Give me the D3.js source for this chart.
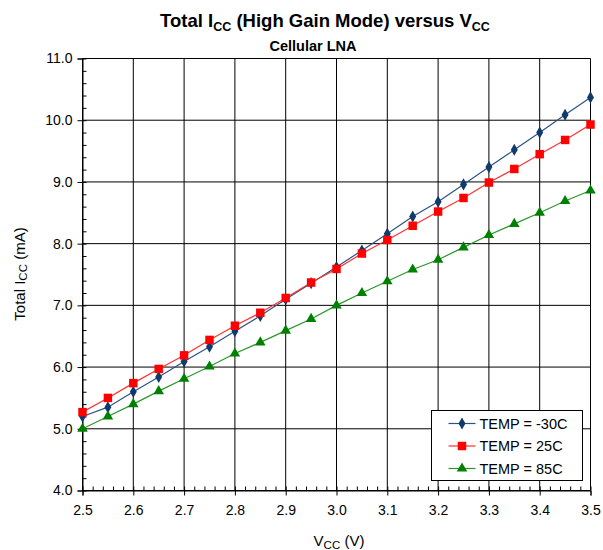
<!DOCTYPE html>
<html>
<head>
<meta charset="utf-8">
<script src="https://cdn.jsdelivr.net/npm/d3@7"></script>
<style>
	body { margin:0; background:#fff; }
	text { font-family: Arial, "Liberation Sans", sans-serif; fill:#000; }
</style>
</head>
<body>
<svg width="603" height="550"></svg>
<script>
var vcc = [2.5,2.55,2.6,2.65,2.7,2.75,2.8,2.85,2.9,2.95,3.0,3.05,3.1,3.15,3.2,3.25,3.3,3.35,3.4,3.45,3.5];
var tempM30 = [5.20,5.35,5.60,5.84,6.09,6.33,6.58,6.83,7.10,7.36,7.62,7.89,8.16,8.44,8.68,8.96,9.24,9.52,9.80,10.09,10.37];
var temp25 = [5.27,5.50,5.74,5.97,6.19,6.44,6.67,6.88,7.12,7.37,7.59,7.84,8.06,8.29,8.52,8.74,8.99,9.21,9.45,9.68,9.93];
var temp85 = [5.00,5.20,5.40,5.61,5.81,6.01,6.22,6.40,6.59,6.78,7.00,7.20,7.39,7.58,7.74,7.94,8.14,8.32,8.50,8.69,8.86];
var seriesNames = ["TEMP = -30C","TEMP = 25C","TEMP = 85C"];
var xTicks = [2.5,2.6,2.7,2.8,2.9,3.0,3.1,3.2,3.3,3.4,3.5];
var yTicks = [4,5,6,7,8,9,10,11];

window.iccChart = {
	load:function(){
		var svg = d3.select("svg");
		var x = d3.scaleLinear().domain([2.5,3.5]).range([82.5,590.5]);
		var y = d3.scaleLinear().domain([4,11]).range([490.5,58.5]);
		this.x = x; this.y = y;

		// grid
		svg.append("g").selectAll("line.v").data(xTicks).join("line")
			.attr("x1",d=>x(d)).attr("x2",d=>x(d))
			.attr("y1",y(4)).attr("y2",y(11))
			.attr("stroke","#000");
		svg.append("g").selectAll("line.h").data(yTicks).join("line")
			.attr("x1",x(2.5)).attr("x2",x(3.5))
			.attr("y1",d=>y(d)).attr("y2",d=>y(d))
			.attr("stroke","#000");

		// axes with minor ticks
		var xMinor = d3.range(2.5,3.5001,0.02);
		var yMinor = d3.range(4,11.001,0.2);
		svg.append("g").attr("transform","translate(0,"+y(4)+")")
			.call(d3.axisBottom(x).tickValues(xMinor).tickSize(-4).tickFormat(""))
			.call(g=>g.select(".domain").remove());
		svg.append("g").attr("transform","translate(0,"+y(4)+")")
			.call(d3.axisBottom(x).tickValues(xTicks).tickSize(5).tickPadding(10).tickFormat(d3.format(".1f")))
			.call(g=>g.selectAll("text").attr("font-size","14px").attr("font-family","Arial"));
		svg.append("g").attr("transform","translate("+x(2.5)+",0)")
			.call(d3.axisLeft(y).tickValues(yMinor).tickSize(-4).tickFormat(""))
			.call(g=>g.select(".domain").remove());
		svg.append("g").attr("transform","translate("+x(2.5)+",0)")
			.call(d3.axisLeft(y).tickValues(yTicks).tickSize(5).tickPadding(5).tickFormat(d3.format(".1f")))
			.call(g=>g.selectAll("text").attr("font-size","14px").attr("font-family","Arial"));
		svg.selectAll(".domain").attr("stroke","#000");

		this.drawSeries(svg, tempM30, "#0f3a6b", "#2b5482", d3.symbolDiamond, 42);
		this.drawSeries(svg, temp25, "#ff0000", "#ff3030", d3.symbolSquare, 72);
		this.drawSeries(svg, temp85, "#008000", "#2a962a", d3.symbolTriangle, 48);
		this.legend(svg);
		this.titles(svg);
	},
	drawSeries:function(svg, vals, fill, lineColor, sym, size){
		var x = this.x, y = this.y;
		var pts = vcc.map((v,i)=>[v, vals[i]]);
		svg.append("path").datum(pts)
			.attr("fill","none").attr("stroke",lineColor).attr("stroke-width",1.2)
			.attr("d", d3.line().x(d=>x(d[0])).y(d=>y(d[1])));
		svg.append("g").selectAll("path").data(pts).join("path")
			.attr("transform",d=>"translate("+x(d[0])+","+y(d[1])+")")
			.attr("d", d3.symbol().type(sym).size(size))
			.attr("fill",fill);
	},
	legend:function(svg){
		var g = svg.append("g").attr("transform","translate(431.5,410.5)");
		g.append("rect").attr("width",151).attr("height",70)
			.attr("fill","#fff").attr("stroke","#000");
		var styles = [
			{fill:"#0f3a6b", line:"#2b5482", sym:d3.symbolDiamond, size:42},
			{fill:"#ff0000", line:"#ff3030", sym:d3.symbolSquare, size:72},
			{fill:"#008000", line:"#2a962a", sym:d3.symbolTriangle, size:48}
		];
		seriesNames.forEach(function(name,i){
			var cy = 13 + i*22.5;
			g.append("line").attr("x1",17).attr("x2",44).attr("y1",cy).attr("y2",cy)
				.attr("stroke",styles[i].line).attr("stroke-width",1.2);
			g.append("path").attr("transform","translate(30.5,"+cy+")")
				.attr("d", d3.symbol().type(styles[i].sym).size(styles[i].size))
				.attr("fill",styles[i].fill);
			g.append("text").attr("x",48).attr("y",cy+5)
				.attr("font-size","14.5px").text(name);
		});
	},
	titles:function(svg){
		var t = svg.append("text").attr("x",325).attr("y",27)
			.attr("text-anchor","middle").attr("font-size","18.5px").attr("font-weight","bold");
		t.append("tspan").text("Total I");
		t.append("tspan").attr("font-size","12.5px").attr("dy",4).text("CC");
		t.append("tspan").attr("dy",-4).text(" (High Gain Mode) versus V");
		t.append("tspan").attr("font-size","12.5px").attr("dy",4).text("CC");

		svg.append("text").attr("x",313).attr("y",51)
			.attr("text-anchor","middle").attr("font-size","14.5px").attr("font-weight","bold")
			.text("Cellular LNA");

		var xt = svg.append("text").attr("x",339).attr("y",546)
			.attr("text-anchor","middle").attr("font-size","15px");
		xt.append("tspan").text("V");
		xt.append("tspan").attr("font-size","11.5px").attr("dy",3).text("CC");
		xt.append("tspan").attr("dy",-3).text(" (V)");

		var yt = svg.append("text").attr("transform","translate(25,274) rotate(-90)")
			.attr("text-anchor","middle").attr("font-size","15px");
		yt.append("tspan").text("Total I");
		yt.append("tspan").attr("font-size","11.5px").attr("dy",2).text("CC");
		yt.append("tspan").attr("dy",-2).text(" (mA)");
	}
};
window.iccChart.load();
</script>
</body>
</html>
